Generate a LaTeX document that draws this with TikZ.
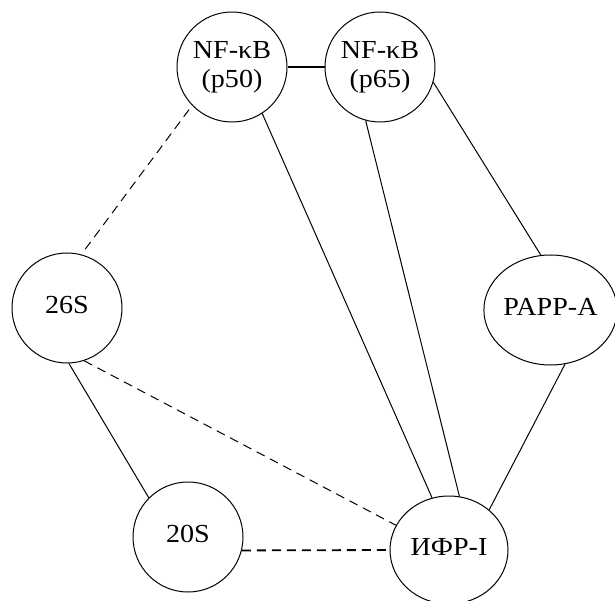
\documentclass[tikz,border=0pt]{standalone}
\usepackage{fontspec}
\setmainfont{Liberation Serif}
\usetikzlibrary{shapes.geometric}
\newcommand{\wtxt}[1]{\scalebox{1.08}[1]{\begin{tabular}{@{}c@{}}#1\end{tabular}}}
\begin{document}
\begin{tikzpicture}[x=1pt,y=-1pt,
  bub/.style={circle,draw,line width=1pt,inner sep=0pt,minimum size=110pt,
    font=\fontsize{26}{29}\selectfont},
  ell/.style={ellipse,draw,line width=1pt,inner sep=0pt,
    font=\fontsize{26}{29}\selectfont},
  link/.style={line width=1pt},
  thicklink/.style={line width=1.8pt},
  dlink/.style={line width=1pt,dash pattern=on 9pt off 6pt},
  thickdlink/.style={line width=1.8pt,dash pattern=on 9pt off 6pt}]
\useasboundingbox (0,0) rectangle (615,601);
\node[bub] (p50) at (232,67) {\wtxt{NF-κB\\(p50)}};
\node[bub] (p65) at (380,67) {\wtxt{NF-κB\\(p65)}};
\node[bub] (s26) at (67,308) {\wtxt{26S}};
\node[ell,minimum width=127pt,minimum height=110pt] (papp) at (550.5,310) {\wtxt{PAPP-A}};
\node[bub] (s20) at (188,537) {\wtxt{20S}};
\node[ell,minimum width=118pt,minimum height=108pt] (ifr) at (449,550) {\wtxt{ИФР-I}};
\draw[thicklink] (p50.east) -- (p65.west);
\draw[dlink,shorten <=5pt,shorten >=5pt] (p50.224) -- (s26.75);
\draw[link] (p50.-57) -- (ifr.108);
\draw[link] (p65.255) -- (ifr.79);
\draw[link] (p65.-16) -- (papp.100);
\draw[link] (papp.-75) -- (ifr.45);
\draw[link] (s26.-88) -- (s20.135);
\draw[dlink] (s26.-72) -- (ifr.155);
\draw[thickdlink,shorten >=3pt] (s20.-14) -- (ifr.west);
\end{tikzpicture}
\end{document}
